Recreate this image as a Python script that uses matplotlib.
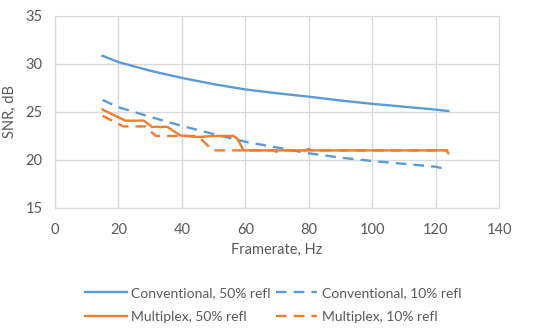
import matplotlib

matplotlib.use("Agg")
import matplotlib.pyplot as plt

plt.rcParams["font.family"] = ["Lato", "DejaVu Sans"]

# Conventional acquisition
CONV_X = [15, 20, 30, 40, 50, 60, 70, 80, 90, 100, 110, 120, 124]
CONV_50 = [30.85, 30.2, 29.3, 28.55, 27.9, 27.35, 26.95, 26.6, 26.2, 25.85, 25.55, 25.25, 25.1]
CONV_10 = [26.25, 25.5, 24.5, 23.55, 22.7, 21.9, 21.3, 20.7, 20.25, 19.9, 19.6, 19.3, 19.0]

# Multiplex acquisition (stepped)
MUX50_X = [15, 22.2, 28, 30.6, 35.4, 39.6, 45, 50, 56.3, 57.5, 59.5, 79, 80, 81, 123.5, 124]
MUX50_Y = [25.25, 24.1, 24.1, 23.45, 23.45, 22.55, 22.4, 22.5, 22.5, 22.2, 21.0, 21.0, 21.15, 21.0, 21.0, 20.7]
MUX10_X = [15, 21.5, 28.5, 31.8, 45, 49.8, 69, 69.8, 70.6, 124]
MUX10_Y = [24.6, 23.5, 23.5, 22.5, 22.5, 21.0, 21.0, 20.85, 21.0, 21.0]

BLUE = "#5B9BD5"
ORANGE = "#ED7D31"
GREY = "#595959"

fig = plt.figure(figsize=(5.5, 3.35), dpi=100)
ax = fig.add_axes([55 / 550, 1 - 208 / 335, 444 / 550, 192 / 335])

ax.plot(CONV_X, CONV_50, color=BLUE, lw=1.7, label="Conventional, 50% refl")
ax.plot(CONV_X, CONV_10, color=BLUE, lw=1.7, ls=(0, (4.5, 3)), label="Conventional, 10% refl")
ax.plot(MUX50_X, MUX50_Y, color=ORANGE, lw=1.7, label="Multiplex, 50% refl")
ax.plot(MUX10_X, MUX10_Y, color=ORANGE, lw=1.7, ls=(0, (4.5, 3)), label="Multiplex, 10% refl")

ax.set_xlim(0, 140)
ax.set_ylim(15, 35)
ax.set_xticks(range(0, 141, 20))
ax.set_yticks(range(15, 36, 5))
ax.grid(color="#D9D9D9", lw=1)
ax.set_axisbelow(True)
for s in ax.spines.values():
    s.set_color("#D9D9D9")
ax.tick_params(length=0, labelsize=10.5, labelcolor=GREY)
ax.tick_params(axis="x", pad=11)
ax.tick_params(axis="y", pad=9)
ax.set_xlabel("Framerate, Hz", fontsize=10.5, color=GREY, labelpad=4)
ax.set_ylabel("SNR, dB", fontsize=10.5, color=GREY, labelpad=6)

# legend order: row-wise in two columns
h, l = ax.get_legend_handles_labels()
order = [0, 2, 1, 3]
fig.legend([h[i] for i in order], [l[i] for i in order], ncol=2,
           loc="center", bbox_to_anchor=(273 / 550, 1 - 305 / 335), frameon=False,
           fontsize=10, labelcolor=GREY, handlelength=3.0, handletextpad=0.3,
           columnspacing=0.4, labelspacing=0.85)

fig.savefig("out.png", dpi=100)
